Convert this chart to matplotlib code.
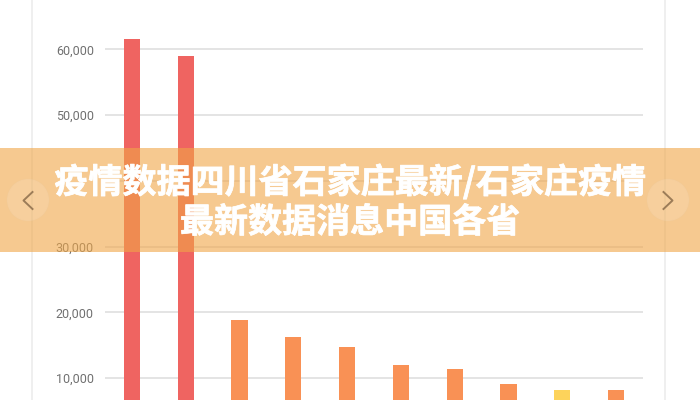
import numpy as np
import matplotlib
matplotlib.use("Agg")
import matplotlib.pyplot as plt
import matplotlib.patheffects as pe
from matplotlib.patches import Rectangle, Circle
from matplotlib.lines import Line2D

# values (x labels are cut off in the reference)
values = [61600, 59000, 18900, 16300, 14750, 12000, 11350, 9100, 8200, 8200]
bar_colors = ['#ef6461', '#ef6461', '#f99155', '#f99155', '#f99155',
              '#f99155', '#f99155', '#f99155', '#fdd35b', '#f99155']
yticks = [10000, 20000, 30000, 40000, 50000, 60000]
title_lines = ['疫情数据四川省石家庄最新/石家庄疫情', '最新数据消息中国各省']

W, H = 700, 400

def fx(px):
    return px / W

def fy(py):
    # pixel rows counted from the top
    return 1 - py / H

fig = plt.figure(figsize=(7, 4), dpi=100)
fig.patch.set_facecolor('white')

# axes laid out so 0 sits below the visible area (chart is cropped)
ax = fig.add_axes([fx(105), 0, fx(538), 1])
ax.set_facecolor('none')
x = np.arange(len(values))
ax.bar(x, values, width=0.3, color=bar_colors, zorder=2)
ax.set_xlim(-0.5, len(values) - 0.5)
ax.set_ylim((444 - 400) / 0.006576, 444 / 0.006576)
ax.set_yticks(yticks)
# 40,000 label is hidden under the banner text in the reference
ax.set_yticklabels(['' if v == 40000 else '{:,}'.format(v) for v in yticks],
                   family='Roboto', fontsize=9, color='#707070')
ax.tick_params(axis='y', length=0, pad=8)
ax.set_xticks([])
ax.grid(axis='y', color='#e2e2e2', linewidth=1.3, zorder=1)
for s in ax.spines.values():
    s.set_visible(False)

# card borders
for px in (32, 665):
    fig.add_artist(Line2D([fx(px), fx(px)], [0, 1], color='#ececec',
                          linewidth=1.2, transform=fig.transFigure, zorder=1))

# translucent banner across the middle
fig.add_artist(Rectangle((0, fy(252)), 1, (252 - 148) / H,
                         transform=fig.transFigure, facecolor=(0.94, 0.65, 0.28),
                         alpha=0.6, edgecolor='none', zorder=5))

cjk = ['Noto Sans CJK SC', 'DejaVu Sans']
heavy = [pe.withStroke(linewidth=0.5, foreground='white')]
fig.text(0.5, fy(182), title_lines[0], ha='center', va='center', color='white',
         fontsize=24.5, fontweight='black', family=cjk, zorder=7, path_effects=heavy)
fig.text(0.5, fy(222), title_lines[1], ha='center', va='center', color='white',
         fontsize=24.5, fontweight='black', family=cjk, zorder=7, path_effects=heavy)

# prev / next buttons
for cx, d in ((28, -1), (668, 1)):
    circ = Circle((cx, H - 200), 21, transform=None, facecolor='white', alpha=0.12,
                  edgecolor='#e8c9a0', linewidth=0.8, zorder=6)
    fig.add_artist(circ)
    xs = [cx - 4.5 * d, cx + 4.5 * d, cx - 4.5 * d]
    ys = [192, 200.5, 209]
    fig.add_artist(Line2D([fx(v) for v in xs], [fy(v) for v in ys], color='#9c7c58',
                          linewidth=1.4, transform=fig.transFigure, zorder=7))

fig.savefig('out.png', dpi=100)
